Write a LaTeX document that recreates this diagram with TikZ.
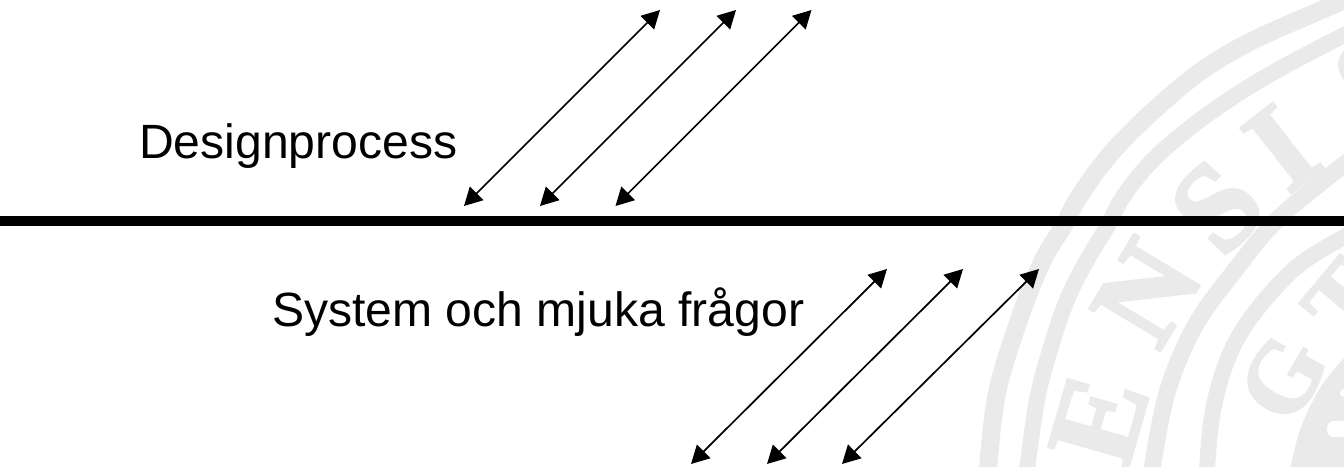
\documentclass[tikz,border=0pt]{standalone}
\usepackage{fontspec}
\setmainfont{Liberation Sans}
\newfontfamily\sealfont[FakeBold=2.5]{Liberation Serif Bold}
\usetikzlibrary{arrows.meta}
\definecolor{sealgray}{HTML}{EAEAEA}
\tikzset{
  biarrow/.style={line width=1.7pt,draw=black,{Triangle[length=18pt,width=19pt]}-{Triangle[length=18pt,width=19pt]}},
  barline/.style={line width=10.5pt,draw=black},
  label/.style={inner sep=0pt,anchor=base west,font=\fontsize{48.1}{52}\selectfont,text=black},
  ring/.style={draw=sealgray,line cap=butt,line join=round},
  sealletter/.style={inner sep=0pt,text=sealgray,font=\sealfont\fontsize{125}{130}\selectfont},
  innerletter/.style={inner sep=0pt,text=sealgray,font=\sealfont\fontsize{100}{110}\selectfont},
}
\begin{document}
\begin{tikzpicture}[x=1pt,y=-1pt]
\useasboundingbox (0,0) rectangle (1344,466);
\fill[white] (0,0) rectangle (1344,466);
\begin{scope}
\clip (0,0) rectangle (1344,466);
% rings
\draw[ring,line width=18pt] plot[smooth,tension=0.6] coordinates {(1345,-2) (1333,5) (1260,37) (1213,63) (1177,90) (1133,130) (1103,163) (1077,200) (1063,227) (1043,260) (1020,317) (997,393) (988,470)};
\draw[ring,line width=16pt] plot[smooth,tension=0.6] coordinates {(1350,32) (1283,67) (1233,97) (1187,130) (1150,163) (1123,197) (1107,227) (1087,260) (1067,300) (1050,350) (1037,400) (1027,470)};
\draw[ring,line width=17pt] plot[smooth,tension=0.6] coordinates {(1350,160) (1280,217) (1236,269) (1195,326) (1167,393) (1152,470)};
\draw[ring,line width=16pt] plot[smooth,tension=0.6] coordinates {(1350,234) (1307,259) (1277,286) (1245,326) (1225,366) (1212,416) (1207,470)};
% inner gray mass at the lower right corner
\fill[sealgray] plot[smooth,tension=0.6] coordinates {(1290,470) (1300,430) (1320,388) (1344,358)} -- (1350,358) -- (1350,470) -- cycle;
\fill[white,rounded corners=7pt] (1327,421) rectangle (1350,437);
\fill[white] (1344,393) circle[radius=4];
\node[sealletter,rotate=74] (lE) at (1099,420) {E};
\node[sealletter,rotate=59] (lN) at (1147,293) {N};
\node[sealletter,rotate=47] (lS) at (1217,207) {S};
\node[sealletter,rotate=38] (lI) at (1282,148) {I};
\node[sealletter,rotate=27] (lS2) at (1376,80) {S};
\node[innerletter,rotate=60] (lG) at (1283,378) {G};
\node[innerletter,rotate=50] (lT) at (1345,300) {T};
\end{scope}
\coordinate (a1) at (464,206); \coordinate (b1) at (660,10);
\coordinate (a2) at (540,206); \coordinate (b2) at (736,10);
\coordinate (a3) at (615.5,206); \coordinate (b3) at (811.5,10);
\coordinate (c1) at (691,464); \coordinate (d1) at (887,269);
\coordinate (c2) at (767,464); \coordinate (d2) at (963,269);
\coordinate (c3) at (842,464); \coordinate (d3) at (1039,269);
\draw[biarrow] (a1) -- (b1);
\draw[biarrow] (a2) -- (b2);
\draw[biarrow] (a3) -- (b3);
\draw[biarrow] (c1) -- (d1);
\draw[biarrow] (c2) -- (d2);
\draw[biarrow] (c3) -- (d3);
\coordinate (barL) at (0,221);
\coordinate (barR) at (1344,221);
\draw[barline] (barL) -- (barR);
\node[label] (design) at (139,158) {Designprocess};
\node[label] (system) at (272,326) {System och mjuka frågor};
\end{tikzpicture}
\end{document}
